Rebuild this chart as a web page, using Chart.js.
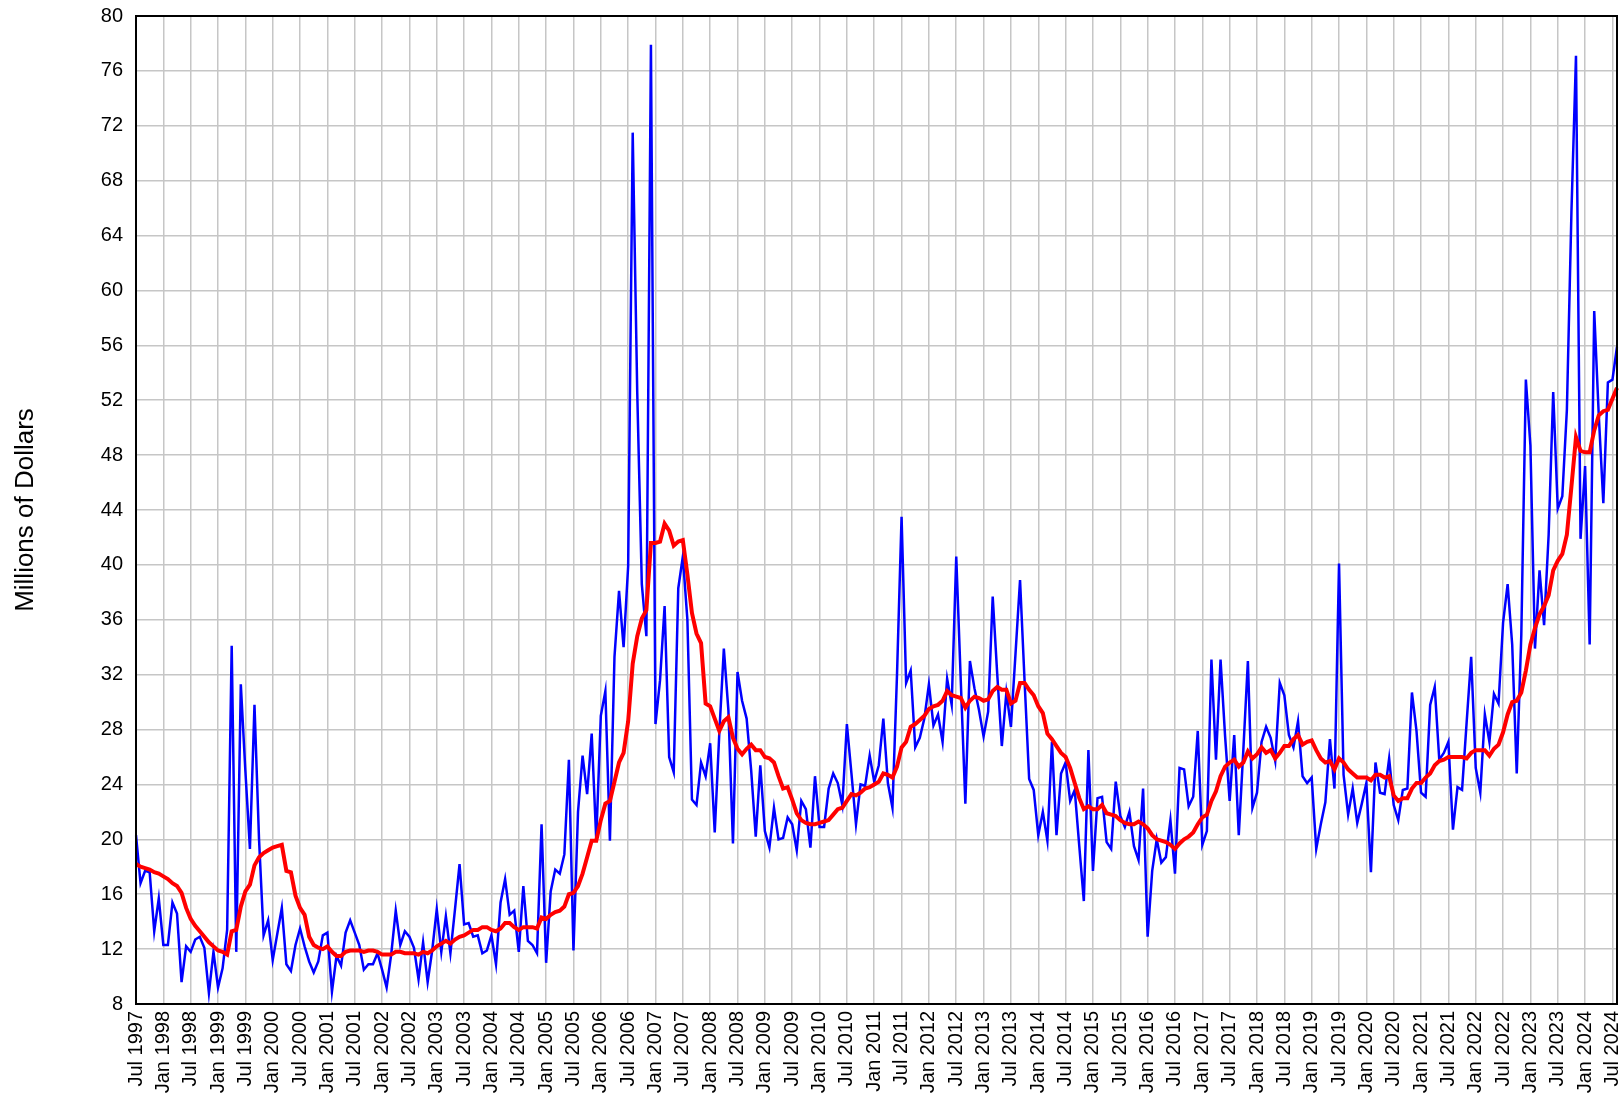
<!DOCTYPE html>
<html>
<head>
<meta charset="utf-8">
<title>Millions of Dollars</title>
<script src="https://cdn.jsdelivr.net/npm/chart.js@4.4.1/dist/chart.umd.min.js"></script>
<style>
  html, body { margin: 0; padding: 0; background: #fff; }
</style>
</head>
<body>
<canvas id="chart" width="1621" height="1104"></canvas>
<script>
// monthly series, Jul 1997 .. Aug 2024
var monthNames = ['Jan', 'Feb', 'Mar', 'Apr', 'May', 'Jun', 'Jul', 'Aug', 'Sep', 'Oct', 'Nov', 'Dec'];
var firstYear = 1997;
var firstMonth = 6; // Jul

var monthly = [
  20.3, 16.8, 17.7, 17.6, 13.3, 15.7, 12.3, 12.3, 15.4, 14.6, 9.6, 12.2,
  11.8, 12.7, 12.9, 12.1, 8.8, 11.8, 9.2, 10.6, 13.4, 34.1, 11.8, 31.3,
  25.0, 19.3, 29.8, 20.0, 13.0, 14.1, 11.2, 13.1, 15.0, 10.9, 10.4, 12.3,
  13.5, 12.2, 11.1, 10.3, 11.1, 13.0, 13.2, 8.9, 11.5, 10.8, 13.2, 14.1,
  13.2, 12.3, 10.5, 10.9, 10.9, 11.7, 10.5, 9.2, 11.6, 14.8, 12.3, 13.3,
  12.9, 12.1, 9.8, 12.5, 9.6, 11.9, 14.9, 11.8, 14.4, 11.7, 14.9, 18.2,
  13.8, 13.9, 12.9, 13.0, 11.7, 11.9, 13.0, 10.9, 15.4, 17.1, 14.5, 14.8,
  11.8, 16.6, 12.6, 12.3, 11.7, 21.1, 11.0, 16.2, 17.8, 17.5, 18.9, 25.8,
  11.9, 22.0, 26.1, 23.3, 27.7, 20.0, 29.0, 30.8, 19.9, 33.3, 38.1, 34.0,
  39.9, 71.5, 52.5, 38.6, 34.8, 77.9, 28.4, 31.6, 37.0, 26.0, 24.9, 38.3,
  40.6, 36.0, 22.9, 22.5, 25.6, 24.6, 27.0, 20.5, 27.7, 33.9, 29.4, 19.7,
  32.2, 30.1, 28.8, 25.0, 20.2, 25.4, 20.6, 19.4, 22.3, 20.0, 20.1, 21.6,
  21.1, 19.2, 22.8, 22.2, 19.4, 24.6, 20.9, 20.9, 23.7, 24.8, 24.1, 22.5,
  28.4, 24.8, 21.1, 24.0, 23.9, 26.1, 24.2, 25.4, 28.8, 24.1, 22.3, 32.0,
  43.5, 31.4, 32.3, 26.7, 27.4, 28.8, 31.3, 28.3, 29.1, 27.1, 31.7, 29.8,
  40.6, 31.5, 22.6, 33.0, 31.0, 29.4, 27.5, 29.3, 37.7, 32.0, 26.8, 30.7,
  28.2, 33.5, 38.9, 31.5, 24.4, 23.6, 20.3, 22.0, 19.9, 27.1, 20.3, 24.8,
  25.6, 22.8, 23.6, 19.5, 15.5, 26.5, 17.7, 23.0, 23.1, 19.8, 19.3, 24.2,
  21.7, 20.9, 22.0, 19.5, 18.5, 23.7, 12.9, 17.7, 20.0, 18.3, 18.7, 21.4,
  17.5, 25.2, 25.1, 22.4, 23.1, 27.9, 19.6, 20.6, 33.1, 25.8, 33.1, 27.5,
  22.8, 27.6, 20.3, 26.5, 33.0, 22.3, 23.4, 27.1, 28.2, 27.4, 25.7, 31.4,
  30.5, 27.6, 26.7, 28.6, 24.6, 24.1, 24.5, 19.3, 21.1, 22.7, 27.3, 23.7,
  40.1, 24.7, 21.8, 23.7, 21.2, 22.6, 24.1, 17.6, 25.6, 23.4, 23.3, 25.9,
  22.5, 21.4, 23.6, 23.7, 30.7, 27.9, 23.4, 23.1, 29.8, 31.1, 25.8, 26.3,
  27.1, 20.7, 23.8, 23.6, 28.5, 33.3, 25.2, 23.4, 29.1, 27.1, 30.6, 29.9,
  35.8, 38.6, 34.2, 24.8, 34.9, 53.5, 48.7, 33.9, 39.6, 35.6, 42.2, 52.6,
  44.1, 45.0, 51.3, 65.7, 77.1, 41.9, 47.2, 34.2, 58.5, 50.9, 44.5, 53.3,
  53.5, 55.9
];

// 12-month moving average
var average = [
  18.2, 18.0, 17.9, 17.8, 17.6, 17.5, 17.3, 17.1, 16.8, 16.6, 16.1, 15.0,
  14.2, 13.7, 13.3, 12.9, 12.5, 12.2, 11.9, 11.8, 11.6, 13.3, 13.4, 15.1,
  16.2, 16.7, 18.1, 18.7, 19.0, 19.2, 19.4, 19.5, 19.6, 17.7, 17.6, 15.9,
  15.0, 14.5, 12.9, 12.3, 12.1, 12.0, 12.2, 11.8, 11.5, 11.5, 11.8, 11.9,
  11.9, 11.9, 11.8, 11.9, 11.9, 11.8, 11.6, 11.6, 11.6, 11.8, 11.8, 11.7,
  11.7, 11.7, 11.6, 11.8, 11.7, 11.9, 12.2, 12.4, 12.6, 12.4, 12.7, 12.9,
  13.0, 13.2, 13.4, 13.4, 13.6, 13.6, 13.4, 13.3, 13.5, 13.9, 13.9, 13.6,
  13.4, 13.6, 13.6, 13.6, 13.5, 14.3, 14.2, 14.5, 14.7, 14.8, 15.1, 16.0,
  16.1, 16.6, 17.5, 18.7, 19.9, 19.9, 21.4, 22.6, 22.8, 24.2, 25.6, 26.3,
  28.6, 32.8, 34.8, 36.1, 36.7, 41.6, 41.6, 41.7, 43.0, 42.5, 41.4, 41.7,
  41.8, 39.3, 36.5, 35.0, 34.3, 29.9, 29.7, 28.8, 27.9, 28.6, 28.9, 27.4,
  26.6, 26.2, 26.6, 26.9, 26.5, 26.5, 26.0, 25.9, 25.6, 24.6, 23.7, 23.8,
  22.9, 21.9, 21.4, 21.2, 21.1, 21.1, 21.2, 21.3, 21.4, 21.8, 22.2, 22.3,
  22.8, 23.3, 23.2, 23.4, 23.7, 23.8, 24.0, 24.2, 24.8, 24.7, 24.5, 25.3,
  26.7, 27.1, 28.2, 28.4, 28.7, 29.0, 29.5, 29.7, 29.8, 30.1, 30.8, 30.5,
  30.4, 30.3, 29.6, 30.1, 30.4, 30.3, 30.1, 30.2, 30.8, 31.1, 30.9, 30.9,
  29.9, 30.1, 31.4, 31.4, 30.9, 30.5, 29.7, 29.2, 27.7, 27.3, 26.8, 26.3,
  26.0, 25.2, 24.1, 23.0, 22.2, 22.4, 22.2, 22.2, 22.5, 21.9, 21.8, 21.7,
  21.4, 21.2, 21.1, 21.1, 21.3, 21.1, 20.8, 20.3, 20.0, 19.9, 19.8, 19.6,
  19.3, 19.7, 20.0, 20.2, 20.5, 21.1, 21.6, 21.8, 22.8, 23.5, 24.6, 25.3,
  25.6, 25.8, 25.3, 25.6, 26.4, 25.9, 26.2, 26.7, 26.3, 26.5, 25.9, 26.3,
  26.8, 26.8, 27.3, 27.6, 26.9, 27.1, 27.2, 26.5, 25.9, 25.6, 25.7, 25.1,
  25.9, 25.6, 25.1, 24.8, 24.5, 24.5, 24.5, 24.3, 24.7, 24.7, 24.5, 24.6,
  23.2, 22.8, 23.0, 23.0, 23.7, 24.1, 24.1, 24.5, 24.8, 25.4, 25.7, 25.8,
  26.0, 26.0, 26.0, 26.0, 25.9, 26.3, 26.5, 26.5, 26.5, 26.1, 26.6, 26.9,
  27.8, 29.1, 30.0, 30.1, 30.7, 32.3, 34.2, 35.4, 36.4, 37.0, 37.8, 39.6,
  40.3, 40.8, 42.2, 45.7, 49.3, 48.3, 48.2, 48.2, 49.8, 50.9, 51.2, 51.3,
  52.1, 52.9
];

var yTicks = [8, 12, 16, 20, 24, 28, 32, 36, 40, 44, 48, 52, 56, 60, 64, 68, 72, 76, 80];
var yTitle = 'Millions of Dollars';

var labels = [];
for (var i = 0; i < monthly.length; i++) {
  var m = (firstMonth + i) % 12;
  var y = firstYear + Math.floor((firstMonth + i) / 12);
  labels.push(monthNames[m] + ' ' + y);
}

var fontFamily = '"Liberation Sans", Arial, Helvetica, sans-serif';

// black frame round the plot area
var frame = {
  id: 'frame',
  afterDatasetsDraw: function(chart) {
    var a = chart.chartArea;
    var ctx = chart.ctx;
    ctx.save();
    ctx.strokeStyle = '#000';
    ctx.lineWidth = 2;
    ctx.strokeRect(a.left, a.top, a.right - a.left, a.bottom - a.top);
    ctx.restore();
  }
};

var ctx = document.getElementById('chart');

new Chart(ctx, {
  type: 'line',
  data: {
    labels: labels,
    datasets: [
      {
        label: '12 month average',
        data: average,
        borderColor: '#ff0000',
        borderWidth: 4,
        pointRadius: 0,
        tension: 0,
        fill: false
      },
      {
        label: 'Monthly',
        data: monthly,
        borderColor: '#0000ff',
        borderWidth: 2.5,
        pointRadius: 0,
        tension: 0,
        fill: false
      }
    ]
  },
  options: {
    responsive: false,
    animation: false,
    devicePixelRatio: 1,
    layout: { padding: { left: 0, right: 4, top: 16, bottom: 0 } },
    plugins: {
      legend: { display: false },
      tooltip: { enabled: false }
    },
    scales: {
      x: {
        type: 'category',
        offset: false,
        border: { display: false },
        grid: { color: '#c6c6c6', lineWidth: 1.5, drawTicks: false },
        ticks: {
          autoSkip: false,
          minRotation: 90,
          maxRotation: 90,
          padding: 7,
          color: '#000',
          font: { family: fontFamily, size: 20 },
          callback: function(v, idx) {
            return idx % 6 === 0 ? labels[idx] : null;
          }
        },
        afterFit: function(scale) {
          scale.height = 100;
          scale.paddingLeft = 0;
          scale.paddingRight = 0;
        }
      },
      y: {
        min: 8,
        max: 80,
        border: { display: false },
        grid: { color: '#c6c6c6', lineWidth: 1.5, drawTicks: false },
        afterBuildTicks: function(scale) {
          scale.ticks = yTicks.map(function(v) { return { value: v }; });
        },
        ticks: {
          padding: 13,
          color: '#000',
          font: { family: fontFamily, size: 20 }
        },
        title: {
          display: true,
          text: yTitle,
          color: '#000',
          padding: { top: 10, bottom: 0 },
          font: { family: fontFamily, size: 26 }
        },
        afterFit: function(scale) {
          scale.width = 136;
          scale.paddingTop = 0;
          scale.paddingBottom = 0;
        }
      }
    }
  },
  plugins: [frame]
});
</script>
</body>
</html>
